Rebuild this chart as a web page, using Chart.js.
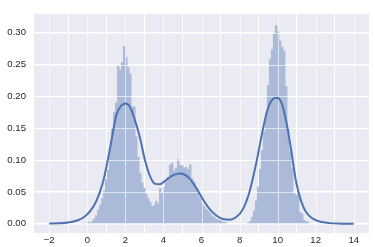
<!DOCTYPE html>
<html>
<head>
<meta charset="utf-8">
<script src="https://cdn.jsdelivr.net/npm/chart.js@4/dist/chart.umd.min.js"></script>
<style>
  html, body { margin: 0; padding: 0; background: #ffffff; }
  #wrap { width: 375px; height: 247px; }
</style>
</head>
<body>
<div id="wrap"><canvas id="distChart"></canvas></div>
<script>
// histogram bins (left start + width), density per bin
var binStart = -0.21;
var binWidth = 0.105;
var histDensity = [
  0.002, 0.001, 0.003, 0.002, 0.004, 0.008, 0.013, 0.022, 0.030, 0.040,
  0.052, 0.070, 0.085, 0.115, 0.150, 0.175, 0.190, 0.248, 0.242, 0.254,
  0.279, 0.262, 0.246, 0.236, 0.184, 0.184, 0.137, 0.105, 0.080, 0.065,
  0.056, 0.047, 0.040, 0.034, 0.028, 0.029, 0.036, 0.032, 0.056, 0.048,
  0.058, 0.066, 0.073, 0.093, 0.096, 0.083, 0.088, 0.101, 0.092, 0.092,
  0.088, 0.089, 0.086, 0.093, 0.071, 0.066, 0.056, 0.048, 0.041, 0.033,
  0.028, 0.023, 0.020, 0.017, 0.013, 0.011, 0.008, 0.007, 0.006, 0.004,
  0.003, 0.002, 0.001, 0.001, 0, 0, 0, 0, 0.001, 0,
  0.001, 0.001, 0.002, 0.004, 0.011, 0.021, 0.036, 0.058, 0.086, 0.116,
  0.145, 0.173, 0.218, 0.259, 0.274, 0.299, 0.312, 0.302, 0.288, 0.278,
  0.272, 0.216, 0.149, 0.114, 0.088, 0.048, 0.046, 0.046, 0.018, 0.016,
  0.006, 0.004, 0.003, 0.001
];

// kde curve
var kdeX = [-2, -1.5, -1, -0.5, -0.22, 0.13, 0.48, 0.83, 1.18, 1.53, 1.8, 2.02, 2.23, 2.49,
  2.76, 3.02, 3.28, 3.54, 3.81, 4.07, 4.42, 4.85, 5.12, 5.38, 5.73, 6.08, 6.43, 6.78,
  7.13, 7.48, 7.83, 8.18, 8.53, 8.88, 9.23, 9.49, 9.75, 9.96, 10.19, 10.45, 10.71,
  10.97, 11.23, 11.5, 11.85, 12.2, 12.72, 13.3, 14];
var kdeY = [0.0003, 0.0008, 0.002, 0.0055, 0.0095, 0.019, 0.036, 0.066, 0.116, 0.171, 0.186,
  0.189, 0.184, 0.164, 0.136, 0.101, 0.076, 0.063, 0.062, 0.067, 0.075, 0.079, 0.077,
  0.071, 0.056, 0.038, 0.023, 0.013, 0.0075, 0.0065, 0.0105, 0.023, 0.051, 0.096,
  0.149, 0.181, 0.196, 0.198, 0.191, 0.161, 0.116, 0.066, 0.036, 0.018, 0.008,
  0.0035, 0.001, 0.0002, 0];

var xTicks = [-2, 0, 2, 4, 6, 8, 10, 12, 14];
var yTicks = [0, 0.05, 0.10, 0.15, 0.20, 0.25, 0.30];

var histPoints = histDensity.map(function (d, i) {
  return { x: binStart + binWidth * (i + 0.5), y: d };
});
var kdePoints = kdeX.map(function (x, i) {
  return { x: x, y: kdeY[i] };
});

// axes background, and grid lines seen faintly through the bars (bars are 40% alpha in seaborn)
var plotBg = {
  id: 'plotBg',
  beforeDraw: function (chart) {
    var a = chart.chartArea;
    var ctx = chart.ctx;
    ctx.save();
    ctx.fillStyle = '#EAEAF2';
    ctx.fillRect(a.left, a.top, a.right - a.left, a.bottom - a.top);
    ctx.restore();
  },
  beforeDatasetDraw: function (chart, args) {
    if (args.index !== 0) return;
    var a = chart.chartArea;
    var ctx = chart.ctx;
    ctx.save();
    ctx.strokeStyle = 'rgba(255, 255, 255, 0.6)';
    ctx.lineWidth = 1;
    ctx.beginPath();
    xTicks.forEach(function (v) {
      var px = Math.round(chart.scales.x.getPixelForValue(v)) + 0.5;
      ctx.moveTo(px, a.top);
      ctx.lineTo(px, a.bottom);
    });
    yTicks.forEach(function (v) {
      var py = Math.round(chart.scales.y.getPixelForValue(v)) + 0.5;
      ctx.moveTo(a.left, py);
      ctx.lineTo(a.right, py);
    });
    ctx.stroke();
    ctx.restore();
  }
};

var tickFont = { family: '"Liberation Sans", Arial, sans-serif', size: 9.6 };

var ctx = document.getElementById('distChart').getContext('2d');
var distChart = new Chart(ctx, {
  data: {
    datasets: [
      {
        type: 'line',
        data: kdePoints,
        borderColor: '#4C72B0',
        borderWidth: 2,
        pointRadius: 0,
        cubicInterpolationMode: 'monotone',
        fill: false,
        order: 0
      },
      {
        type: 'bar',
        data: histPoints,
        backgroundColor: '#ABBAD8', // #4C72B0 at 40% over #EAEAF2
        borderWidth: 0,
        barPercentage: 1.25,
        categoryPercentage: 1,
        order: 1
      }
    ]
  },
  options: {
    responsive: true,
    maintainAspectRatio: false,
    animation: false,
    layout: { padding: { top: 5, right: 6, left: 0, bottom: 0 } },
    plugins: {
      legend: { display: false },
      tooltip: { enabled: false }
    },
    scales: {
      x: {
        type: 'linear',
        min: -2.8,
        max: 14.8,
        offset: false,
        border: { display: false },
        grid: { color: '#ffffff', lineWidth: 1, drawTicks: false },
        ticks: {
          color: '#262626',
          font: tickFont,
          padding: 2,
          maxRotation: 0,
          callback: function (v) { return v < 0 ? '\u2212' + Math.abs(v) : String(v); }
        },
        afterBuildTicks: function (axis) {
          axis.ticks = xTicks.map(function (v) { return { value: v }; });
        },
        afterFit: function (axis) { axis.height = 14; }
      },
      y: {
        type: 'linear',
        min: -0.0145,
        max: 0.3298,
        border: { display: false },
        grid: { color: '#ffffff', lineWidth: 1, drawTicks: false },
        ticks: {
          color: '#262626',
          font: tickFont,
          padding: 8,
          callback: function (v) { return v.toFixed(2); }
        },
        afterBuildTicks: function (axis) {
          axis.ticks = yTicks.map(function (v) { return { value: v }; });
        },
        afterFit: function (axis) { axis.width = 34; }
      }
    }
  },
  plugins: [plotBg]
});
</script>
</body>
</html>
